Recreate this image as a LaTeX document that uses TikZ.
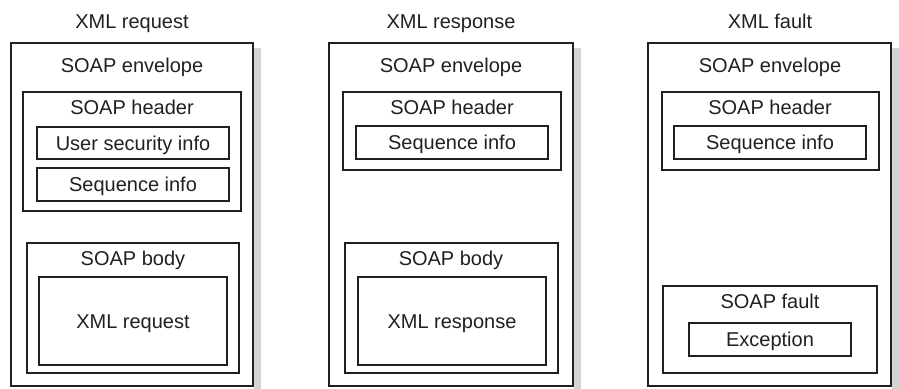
\documentclass[tikz,border=0pt]{standalone}
\usepackage{fontspec}
\setmainfont{Liberation Sans}
\definecolor{ink}{HTML}{231F20}
\definecolor{shadowc}{HTML}{D2D3D5}
\tikzset{
  x=1pt, y=-1pt,
  envbox/.style={draw=ink, line width=2.4pt, fill=white, anchor=north west, inner sep=0pt, outer sep=0pt},
  partbox/.style={draw=ink, line width=1.8pt, anchor=north west, inner sep=0pt, outer sep=0pt},
  itembox/.style={draw=ink, line width=1.1pt, anchor=north west, inner sep=0pt, outer sep=0pt,
                  text=ink, font=\fontsize{20}{24}\selectfont, text height=14.3pt, text depth=0pt},
  lbl/.style={text=ink, font=\fontsize{20}{24}\selectfont, inner sep=0pt, anchor=base},
  dropshadow/.style={fill=shadowc, draw=none},
}
\begin{document}
\begin{tikzpicture}
\useasboundingbox (0,0) rectangle (899,388);

% ---- request message ----
\node[lbl] (title1) at (132,28.5) {XML request};
\node[envbox, minimum width=242pt, minimum height=343pt] (env1) at (11,43) {};
\fill[dropshadow] ([shift={(1.3,5)}]env1.north east) rectangle ([shift={(8,8)}]env1.south east);
\node[lbl] (envlbl1) at (132,72.5) {SOAP envelope};
\node[partbox, minimum width=218pt, minimum height=119pt] (hdr1) at (23,92) {};
\node[lbl] (hdrlbl1) at (132,114) {SOAP header};
\node[itembox, minimum width=192pt, minimum height=32pt] (usr1) at (37,127) {User security info};
\node[itembox, minimum width=192pt, minimum height=33pt] (seq1) at (37,168) {Sequence info};
\node[partbox, minimum width=212pt, minimum height=130pt] (body1) at (27,243) {};
\node[lbl] (bodylbl1) at (133,265) {SOAP body};
\node[itembox, minimum width=188pt, minimum height=88pt] (req1) at (39,277) {XML request};

% ---- response message ----
\node[lbl] (title2) at (451,28.5) {XML response};
\node[envbox, minimum width=244pt, minimum height=343pt] (env2) at (329,43) {};
\fill[dropshadow] ([shift={(1.3,5)}]env2.north east) rectangle ([shift={(8,8)}]env2.south east);
\node[lbl] (envlbl2) at (451,72.5) {SOAP envelope};
\node[partbox, minimum width=218pt, minimum height=78pt] (hdr2) at (343,92) {};
\node[lbl] (hdrlbl2) at (452,114) {SOAP header};
\node[itembox, minimum width=192pt, minimum height=33pt] (seq2) at (356,126) {Sequence info};
\node[partbox, minimum width=213pt, minimum height=130pt] (body2) at (345,243) {};
\node[lbl] (bodylbl2) at (451,265) {SOAP body};
\node[itembox, minimum width=188pt, minimum height=88pt] (resp2) at (358,277) {XML response};

% ---- fault message ----
\node[lbl] (title3) at (770,28.5) {XML fault};
\node[envbox, minimum width=243pt, minimum height=343pt] (env3) at (648,43) {};
\fill[dropshadow] ([shift={(1.3,5)}]env3.north east) rectangle ([shift={(8,8)}]env3.south east);
\node[lbl] (envlbl3) at (770,72.5) {SOAP envelope};
\node[partbox, minimum width=217pt, minimum height=78pt] (hdr3) at (662,92) {};
\node[lbl] (hdrlbl3) at (770,114) {SOAP header};
\node[itembox, minimum width=192pt, minimum height=33pt] (seq3) at (674,126) {Sequence info};
\node[partbox, minimum width=214pt, minimum height=87pt] (fault3) at (663,286) {};
\node[lbl] (faultlbl3) at (770,308) {SOAP fault};
\node[itembox, minimum width=162pt, minimum height=33pt] (exc3) at (689,323) {Exception};
\end{tikzpicture}
\end{document}
